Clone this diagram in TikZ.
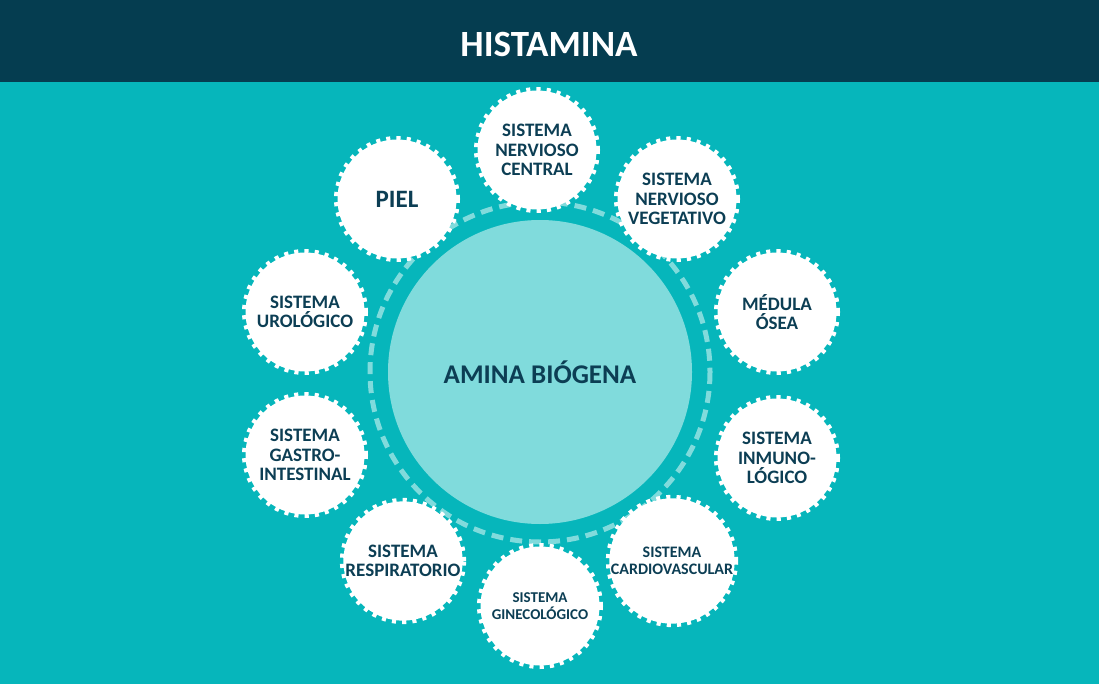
\documentclass[tikz,border=0pt]{standalone}
\usepackage{fontspec}
\setmainfont{Carlito}
\definecolor{headnavy}{HTML}{053D50}
\definecolor{bgteal}{HTML}{06B6BB}
\definecolor{paleteal}{HTML}{80DBDC}
\definecolor{inktext}{HTML}{0C3E54}

\tikzset{
  organ/.style={circle, fill=white, draw=white, line width=7pt,
    dash pattern=on 4pt off 6pt, minimum size=119pt, inner sep=0pt,
    align=center, text=inktext, font=\bfseries\fontsize{19}{19.5}\selectfont},
  small/.style={font=\bfseries\fontsize{16}{17}\selectfont},
}

\begin{document}
\begin{tikzpicture}[x=1pt, y=-1pt]

\fill[bgteal] (0,0) rectangle (1099,684);
\fill[headnavy] (0,0) rectangle (1099,82);
\node[white, font=\bfseries\fontsize{37}{38}\selectfont] (title) at (549,44) {HISTAMINA};

% ring and core
\draw[paleteal, line width=5pt, dash pattern=on 12pt off 7pt] (540,372) circle (170);
\node[circle, fill=paleteal, minimum size=304pt, inner sep=0pt, text=inktext,
      font=\bfseries\fontsize{27}{28}\selectfont] (core) at (540,372) {AMINA BIÓGENA};

% organs round the core
\node[organ] (snc)    at (537,150) {SISTEMA\\NERVIOSO\\CENTRAL};
\node[organ] (snv)    at (677,199) {SISTEMA\\NERVIOSO\\VEGETATIVO};
\node[organ] (medula) at (777,312) {MÉDULA\\ÓSEA};
\node[organ] (inmuno) at (777,458) {SISTEMA\\INMUNO-\\LÓGICO};
\node[organ, small] (cardio) at (672,561) {SISTEMA\\CARDIOVASCULAR};
\node[organ, font=\bfseries\fontsize{15}{17}\selectfont] (gineco) at (540,606) {SISTEMA\\GINECOLÓGICO};
\node[organ] (resp)   at (403,561) {SISTEMA\\RESPIRATORIO};
\node[organ] (gastro) at (305,455) {SISTEMA\\GASTRO-\\INTESTINAL};
\node[organ] (uro)    at (305,312) {SISTEMA\\UROLÓGICO};
\node[organ, font=\bfseries\fontsize{25}{26}\selectfont] (piel) at (397,199) {PIEL};

\end{tikzpicture}
\end{document}
